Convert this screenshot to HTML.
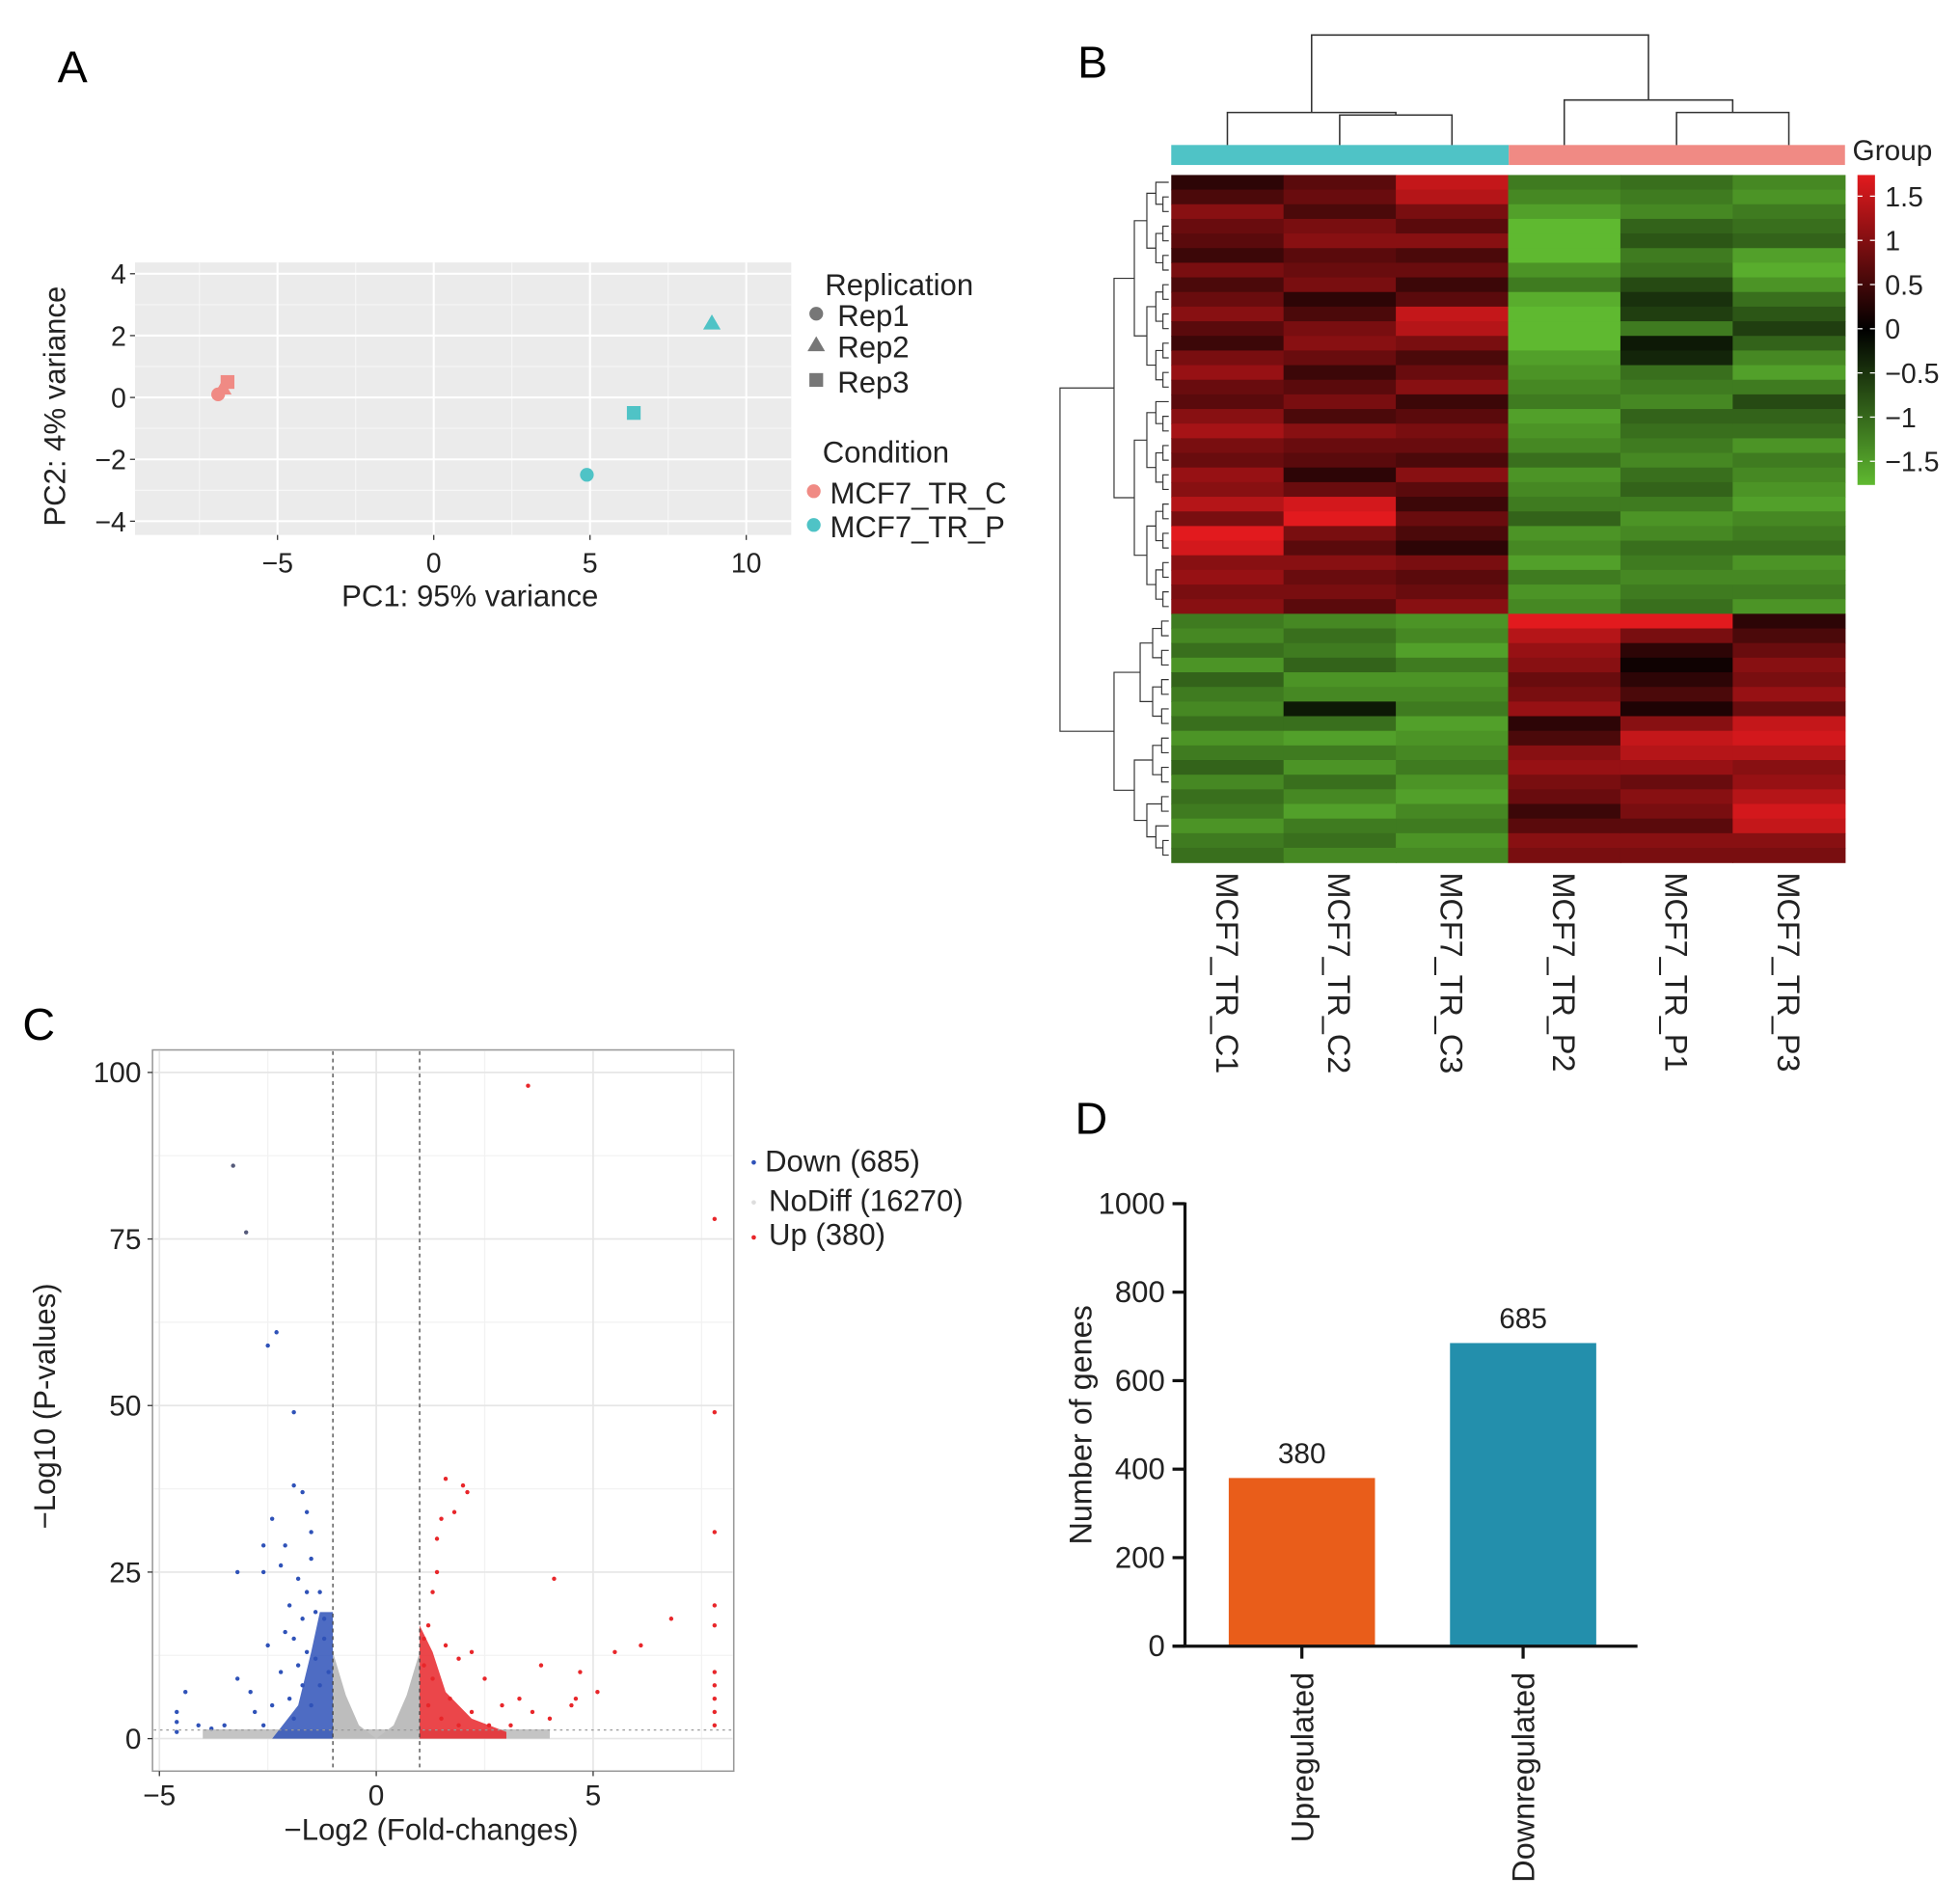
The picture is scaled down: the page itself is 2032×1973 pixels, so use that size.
<!DOCTYPE html>
<html><head><meta charset="utf-8"><style>
html,body{margin:0;padding:0;background:#fff;}
svg{display:block;font-family:"Liberation Sans",Arial,sans-serif;}
</style></head><body>
<svg id="fig" width="2032" height="1973" viewBox="0 0 1568 1522.5" xmlns="http://www.w3.org/2000/svg">
<rect width="1568" height="1522.5" fill="#fff"/>
<text x="46" y="66" font-size="36">A</text>
<text x="862" y="62" font-size="36">B</text>
<text x="18" y="832" font-size="36">C</text>
<text x="860" y="907" font-size="36">D</text>
<g id="pca"></g>
<g id="heat"></g>
<g id="volc"></g>
<g id="bars"></g>
</svg>
<script>
// ---------- data ----------
const pcaC_x=[-6.9,-6.75,-6.6];
const pcaC_y=[0.1,0.3,0.5];
const pcaP_x=[4.9,8.9,6.4];
const pcaP_y=[-2.5,2.4,-0.5];
const pcaShapes=['circle','triangle','square'];
const xTicksA=[-5,0,5,10];
const yTicksA=[-4,-2,0,2,4];

const heatCols=['MCF7_TR_C1','MCF7_TR_C2','MCF7_TR_C3','MCF7_TR_P2','MCF7_TR_P1','MCF7_TR_P3'];
const hC1=[0.3,0.5,0.9,0.7,0.6,0.4,0.8,0.5,0.7,0.9,0.6,0.4,0.8,1.0,0.7,0.6,0.9,1.1,0.8,0.7,1.0,0.9,1.2,0.8,1.5,1.4,0.9,1.0,0.8,0.9,-1.0,-1.1,-0.9,-1.2,-0.8,-1.0,-1.1,-0.9,-1.2,-1.0,-0.8,-1.1,-0.9,-1.0,-1.2,-1.0,-0.9];
const hC2=[0.6,0.7,0.5,0.8,0.9,0.6,0.7,0.8,0.3,0.5,0.8,0.9,0.7,0.4,0.6,0.8,0.5,0.9,0.7,0.6,0.3,0.7,1.4,1.5,0.8,0.6,0.9,0.7,0.8,0.6,-1.1,-0.9,-1.0,-0.8,-1.2,-1.1,-0.2,-0.9,-1.3,-1.0,-1.2,-0.9,-1.1,-1.3,-1.0,-0.9,-1.1];
const hC3=[1.3,1.2,0.8,0.6,0.9,0.5,0.7,0.4,0.6,1.3,1.2,0.8,0.5,0.7,0.9,0.4,0.6,0.8,0.7,0.5,0.9,0.6,0.4,0.7,0.5,0.3,0.8,0.6,0.7,0.9,-1.2,-1.1,-1.3,-1.0,-1.2,-1.1,-1.0,-1.3,-1.2,-1.1,-1.0,-1.2,-1.3,-1.1,-1.0,-1.2,-1.1];
const hP2=[-1.0,-1.1,-1.3,-1.5,-1.6,-1.5,-1.2,-1.0,-1.4,-1.6,-1.6,-1.5,-1.3,-1.2,-1.1,-1.0,-1.3,-1.2,-1.1,-0.9,-1.2,-1.1,-1.0,-0.8,-1.2,-1.1,-1.3,-1.0,-1.2,-1.1,1.5,1.2,1.0,0.9,0.7,0.8,1.0,0.3,0.5,0.9,1.0,0.8,0.7,0.4,0.6,0.9,0.8];
const hP1=[-0.9,-1.0,-1.1,-0.8,-0.7,-1.0,-0.9,-0.6,-0.4,-0.5,-1.0,-0.2,-0.3,-0.9,-1.0,-1.1,-0.8,-0.9,-1.0,-1.1,-0.9,-0.8,-1.0,-1.2,-1.1,-0.9,-1.0,-1.1,-1.0,-0.9,1.5,0.8,0.3,0.1,0.3,0.5,0.2,0.9,1.3,1.2,1.0,0.7,0.9,0.8,0.6,0.9,0.8];
const hP3=[-1.1,-1.2,-1.0,-0.9,-0.8,-1.3,-1.4,-1.2,-0.9,-0.7,-0.5,-0.8,-1.1,-1.3,-1.0,-0.6,-0.8,-0.9,-1.2,-1.0,-1.1,-1.2,-1.3,-1.1,-1.0,-0.9,-1.2,-1.1,-1.0,-1.2,0.3,0.5,0.7,0.9,0.8,1.0,0.7,1.3,1.4,1.2,0.9,1.0,1.2,1.4,1.3,0.9,0.8];
const colorTicks=[1.5,1,0.5,0,-0.5,-1,-1.5];

const downX=[-3.3,-3.0,-2.3,-2.5,-1.9,-1.9,-1.7,-1.6,-2.4,-2.6,-2.1,-1.5,-2.2,-1.5,-3.2,-2.6,-1.8,-1.6,-1.3,-2.0,-1.4,-1.7,-1.2,-2.5,-1.9,-2.1,-1.6,-3.2,-2.9,-2.2,-1.8,-4.4,-4.1,-3.5,-3.8,-2.8,-2.4,-2.0,-1.7,-1.4,-1.2,-1.1,-1.3,-1.5,-1.9,-2.6,-4.6,-4.6,-4.6];
const downY=[86,76,61,59,49,38,37,34,33,29,29,31,26,27,25,25,24,22,22,20,19,18,18,14,15,16,13,9,7,10,11,7,2,2,1.5,4,5,6,8,12,15,10,8,5,3,2,1,2.5,4];
const upX=[3.5,7.8,7.8,1.6,2.0,2.1,1.8,1.5,1.4,7.8,1.4,4.1,1.3,7.8,6.8,7.8,6.1,5.5,1.2,1.1,1.6,2.2,3.8,4.7,1.9,2.5,5.1,4.6,3.3,2.9,3.6,4.0,4.5,2.2,1.7,1.3,1.1,1.5,2.6,3.1,1.9,1.2,7.8,7.8,7.8,7.8,7.8];
const upY=[98,78,49,39,38,37,34,33,30,31,25,24,22,20,18,17,14,13,17,15,14,13,11,10,12,9,7,6,6,5,4,3,5,4,6,9,11,3,2,2,2,5,10,8,6,4,2];
const denseDownX=[-2.4,-1.8,-1.5,-1.3,-1.0,-1.0];
const denseDownY=[0,5,13,19,19,0];
const denseUpX=[1.0,1.0,1.3,1.6,2.2,3.0,3.0];
const denseUpY=[0,17,13,7,3,1,0];
const noDiffX=[-1,-0.7,-0.4,0,0.4,0.7,1,1,-1];
const noDiffY=[13,6.5,2,0,2,6.5,13,0,0];
const xTicksC=[-5,0,5];
const yTicksC=[0,25,50,75,100];

const barCats=['Upregulated','Downregulated'];
const barVals=[380,685];
const barColors=['#e95d1a','#238fac'];
const yTicksD=[0,200,400,600,800,1000];

// ---------- helpers ----------
const NS='http://www.w3.org/2000/svg';
function mk(parent,tag,attrs,txt){const e=document.createElementNS(NS,tag);for(const k in attrs)e.setAttribute(k,attrs[k]);if(txt!==undefined)e.textContent=txt;parent.appendChild(e);return e;}

// ---------- Panel A ----------
(function(){
const g=document.getElementById('pca');
const X=v=>347+v*25, Y=v=>318-v*24.75;
const bg=mk(g,'rect',{x:108,y:210,width:525,height:218,fill:'#ebebeb'});


[-7.5,-2.5,2.5,7.5].forEach(v=>{mk(g,'line',{x1:X(v),x2:X(v),y1:210,y2:428,stroke:'#f7f7f7','stroke-width':0.8});});
[-3,-1,1,3].forEach(v=>{mk(g,'line',{x1:108,x2:633,y1:Y(v),y2:Y(v),stroke:'#f7f7f7','stroke-width':0.8});});
xTicksA.forEach(v=>{mk(g,'line',{x1:X(v),x2:X(v),y1:210,y2:428,stroke:'#fff','stroke-width':1.6});
 mk(g,'line',{x1:X(v),x2:X(v),y1:428,y2:432,stroke:'#333'});
 const t=mk(g,'text',{x:X(v),y:458,'font-size':22,'text-anchor':'middle',fill:'#222'},v<0?'\u2212'+(-v):String(v));
 
 });
yTicksA.forEach(v=>{mk(g,'line',{x1:108,x2:633,y1:Y(v),y2:Y(v),stroke:'#fff','stroke-width':1.6});
 mk(g,'line',{x1:104,x2:108,y1:Y(v),y2:Y(v),stroke:'#333'});
 const t=mk(g,'text',{x:101,y:Y(v)+8,'font-size':22,'text-anchor':'end',fill:'#222'},v<0?'\u2212'+(-v):String(v));
 
 });
function shape(x,y,s,col,name){let e;
 if(s==='circle')e=mk(g,'circle',{cx:x,cy:y,r:5.5,fill:col});
 else if(s==='square')e=mk(g,'rect',{x:x-5.5,y:y-5.5,width:11,height:11,fill:col});
 else e=mk(g,'polygon',{points:`${x},${y-7} ${x-7},${y+5} ${x+7},${y+5}`,fill:col});
 
 }
pcaC_x.forEach((v,i)=>shape(X(v),Y(pcaC_y[i]),pcaShapes[i],'#f08a84','pca-point-control'));
pcaP_x.forEach((v,i)=>shape(X(v),Y(pcaP_y[i]),pcaShapes[i],'#4fc3c6','pca-point-treated'));
let t=mk(g,'text',{x:376,y:485,'font-size':24,'text-anchor':'middle',fill:'#222'},'PC1: 95% variance');

t=mk(g,'text',{x:0,y:0,'font-size':24,'text-anchor':'middle',fill:'#222',transform:'translate(52,325) rotate(-90)'},'PC2: 4% variance');

t=mk(g,'text',{x:660,y:236,'font-size':24,fill:'#222'},'Replication');

['Rep1','Rep2','Rep3'].forEach((r,i)=>{const yy=[252,277,305][i];
 shape(653,yy-1,pcaShapes[i],'#777','replication-legend-key');
 const tt=mk(g,'text',{x:670,y:yy+9,'font-size':24,fill:'#222'},r);
 });
t=mk(g,'text',{x:658,y:370,'font-size':24,fill:'#222'},'Condition');

[['MCF7_TR_C','#f08a84',394],['MCF7_TR_P','#4fc3c6',421]].forEach(a=>{
 shape(651,a[2]-1,'circle',a[1],'condition-legend-key');
 const tt=mk(g,'text',{x:664,y:a[2]+9,'font-size':24,fill:'#222'},a[0]);
 });
})();

// ---------- Panel B ----------
(function(){
const g=document.getElementById('heat');
const cols=[hC1,hC2,hC3,hP2,hP1,hP3];
const x0=937,cw=(1476-937)/6,y0=140,y1=690,n=hC1.length,rh=(y1-y0)/n;
function col(v){v=Math.max(-1.6,Math.min(1.6,v));const f=Math.min(1,Math.abs(v)/1.5);
 return v>=0?`rgb(${Math.round(226*f)},${Math.round(26*f)},${Math.round(30*f)})`:`rgb(${Math.round(95*f)},${Math.round(185*f)},${Math.round(48*f)})`;}
cols.forEach((arr,c)=>arr.forEach((v,r)=>{
 const e=mk(g,'rect',{x:x0+c*cw,y:y0+r*rh,width:cw+0.5,height:rh+0.5,fill:col(v)});
 
 }));
let e=mk(g,'rect',{x:937,y:116,width:270,height:16,fill:'#4fc3c6'});

e=mk(g,'rect',{x:1207,y:116,width:269,height:16,fill:'#f08a84'});

let t=mk(g,'text',{x:1482,y:128,'font-size':23,fill:'#222'},'Group');

const cx=c=>x0+cw*(c+0.5);
const dp=`M${cx(0)},116V90H${(cx(1)+cx(2))/2}V92 M${cx(1)},116V92H${cx(2)}V116 M${(cx(0)+(cx(1)+cx(2))/2)/2},90V28H${(cx(3)+(cx(4)+cx(5))/2)/2}V80 M${cx(3)},116V80H${(cx(4)+cx(5))/2}V90 M${cx(4)},116V90H${cx(5)}V116`;
e=mk(g,'path',{d:dp,fill:'none',stroke:'#333','stroke-width':1.2});

let d='';
function tree(a,b,depth){
 if(b-a===1)return [y0+(a+0.5)*rh,935];
 const m=Math.floor((a+b)/2);
 const L=tree(a,m,depth+1),R=tree(m,b,depth+1);
 const x=Math.min(L[1],R[1])-(depth===0?40:Math.max(3,26/(depth+0.6)));
 d+=`M${L[1]},${L[0]}H${x}V${R[0]}H${R[1]}`;
 return [(L[0]+R[0])/2,x];}
const up=tree(0,30,1), lo=tree(30,n,1);
const rx=848;
d+=`M${up[1]},${up[0]}H${rx}V${lo[0]}H${lo[1]}`;
e=mk(g,'path',{d:d,fill:'none',stroke:'#333','stroke-width':0.9});

heatCols.forEach((lab,c)=>{const tt=mk(g,'text',{x:0,y:0,'font-size':25,fill:'#222',transform:`translate(${cx(c)-9},698) rotate(90)`},lab);
 });
const cb0=140,cb1=388;
const grad=mk(g,'linearGradient',{id:'cbg',x1:0,y1:0,x2:0,y2:1});
[1.65,1,0.5,0,-0.5,-1,-1.65].forEach((v,i)=>mk(grad,'stop',{offset:i/6,'stop-color':col(v)}));
e=mk(g,'rect',{x:1486,y:cb0,width:14,height:cb1-cb0,fill:'url(#cbg)'});

colorTicks.forEach(v=>{const yy=263-v*70.7;
 mk(g,'line',{x1:1486,x2:1490,y1:yy,y2:yy,stroke:'#fff'});mk(g,'line',{x1:1496,x2:1500,y1:yy,y2:yy,stroke:'#fff'});
 const tt=mk(g,'text',{x:1508,y:yy+8,'font-size':22,fill:'#222'},v<0?'\u2212'+(-v):String(v));
 });
})();

// ---------- Panel C ----------
(function(){
const g=document.getElementById('volc');
const X=v=>301+v*34.7, Y=v=>1391-v*5.33;
const pb=mk(g,'rect',{x:122,y:840,width:465,height:577,fill:'#fff',stroke:'#999','stroke-width':1.2});

[-2.5,2.5,7.5].forEach(v=>mk(g,'line',{x1:X(v),x2:X(v),y1:841,y2:1416,stroke:'#f2f2f2'}));
[12.5,37.5,62.5,87.5].forEach(v=>mk(g,'line',{x1:123,x2:586,y1:Y(v),y2:Y(v),stroke:'#f2f2f2'}));
xTicksC.forEach(v=>{mk(g,'line',{x1:X(v),x2:X(v),y1:841,y2:1416,stroke:'#e6e6e6','stroke-width':1.3});
 mk(g,'line',{x1:X(v),x2:X(v),y1:1417,y2:1421,stroke:'#333'});
 const t=mk(g,'text',{x:X(v),y:1444,'font-size':23,'text-anchor':'middle',fill:'#222'},v<0?'\u2212'+(-v):String(v));
 });
yTicksC.forEach(v=>{mk(g,'line',{x1:123,x2:586,y1:Y(v),y2:Y(v),stroke:'#e6e6e6','stroke-width':1.3});
 mk(g,'line',{x1:118,x2:122,y1:Y(v),y2:Y(v),stroke:'#333'});
 const t=mk(g,'text',{x:113,y:Y(v)+8,'font-size':23,'text-anchor':'end',fill:'#222'},String(v));
 });
function poly(xs,ys,fill,name,op){const p=xs.map((v,i)=>X(v)+','+Y(ys[i])).join(' ');
 const e=mk(g,'polygon',{points:p,fill:fill,'fill-opacity':op});
 }
let e=mk(g,'rect',{x:X(-4),y:Y(1.4),width:X(4)-X(-4),height:Y(0)-Y(1.4),fill:'#c4c4c4'});

poly(noDiffX,noDiffY,'#bdbdbd','nodiff-points-region',1);
poly(denseDownX,denseDownY,'#2f52b8','down-dense-region',0.85);
poly(denseUpX,denseUpY,'#e8262a','up-dense-region',0.85);
downX.forEach((v,i)=>{const c=mk(g,'circle',{cx:X(v),cy:Y(downY[i]),r:1.7,fill:downY[i]>70?'#555a7a':'#2f52b8'});
 });
upX.forEach((v,i)=>{const c=mk(g,'circle',{cx:X(v),cy:Y(upY[i]),r:1.7,fill:'#e8262a'});
 });
[-1,1].forEach(v=>{const l=mk(g,'line',{x1:X(v),x2:X(v),y1:841,y2:1416,stroke:'#444','stroke-dasharray':'3,3','stroke-width':1});
 });
const hl=mk(g,'line',{x1:123,x2:586,y1:Y(1.3),y2:Y(1.3),stroke:'#999','stroke-dasharray':'2,3'});

let t=mk(g,'text',{x:345,y:1472,'font-size':24,'text-anchor':'middle',fill:'#222'},'\u2212Log2 (Fold-changes)');

t=mk(g,'text',{x:0,y:0,'font-size':24,'text-anchor':'middle',fill:'#222',transform:'translate(44,1125) rotate(-90)'},'\u2212Log10 (P-values)');

[['Down (685)','#2f52b8',612,937,930],['NoDiff (16270)','#ddd',615,969,962],['Up (380)','#e8262a',615,996,990]].forEach(a=>{
 const c=mk(g,'circle',{cx:603,cy:a[4],r:1.8,fill:a[1]});
 
 const tt=mk(g,'text',{x:a[2],y:a[3],'font-size':24,fill:'#222'},a[0]);
 });
})();

// ---------- Panel D ----------
(function(){
const g=document.getElementById('bars');
const Y=v=>1317-v*0.354;
const bx=[983,1160],bw=117;
barVals.forEach((v,i)=>{
 const r=mk(g,'rect',{x:bx[i],y:Y(v),width:bw,height:Y(0)-Y(v),fill:barColors[i]});
 
 const t=mk(g,'text',{x:bx[i]+bw/2,y:Y(v)-12,'font-size':23,'text-anchor':'middle',fill:'#222'},String(v));
 
 mk(g,'line',{x1:bx[i]+bw/2,x2:bx[i]+bw/2,y1:1317,y2:1327,stroke:'#111','stroke-width':2.5});
 const c=mk(g,'text',{x:0,y:0,'font-size':25,'text-anchor':'end',fill:'#222',transform:`translate(${bx[i]+bw/2+9},1338) rotate(-90)`},barCats[i]);
 });
let e=mk(g,'line',{x1:948,x2:948,y1:962,y2:1318,stroke:'#111','stroke-width':2.5});

e=mk(g,'line',{x1:938,x2:1310,y1:1317,y2:1317,stroke:'#111','stroke-width':2.5});

yTicksD.forEach(v=>{mk(g,'line',{x1:938,x2:948,y1:Y(v),y2:Y(v),stroke:'#111','stroke-width':2.5});
 const t=mk(g,'text',{x:932,y:Y(v)+8,'font-size':24,'text-anchor':'end',fill:'#222'},String(v));
 });
const t=mk(g,'text',{x:0,y:0,'font-size':25,'text-anchor':'middle',fill:'#222',transform:'translate(873,1140) rotate(-90)'},'Number of genes');

})();
</script>
</body></html>
